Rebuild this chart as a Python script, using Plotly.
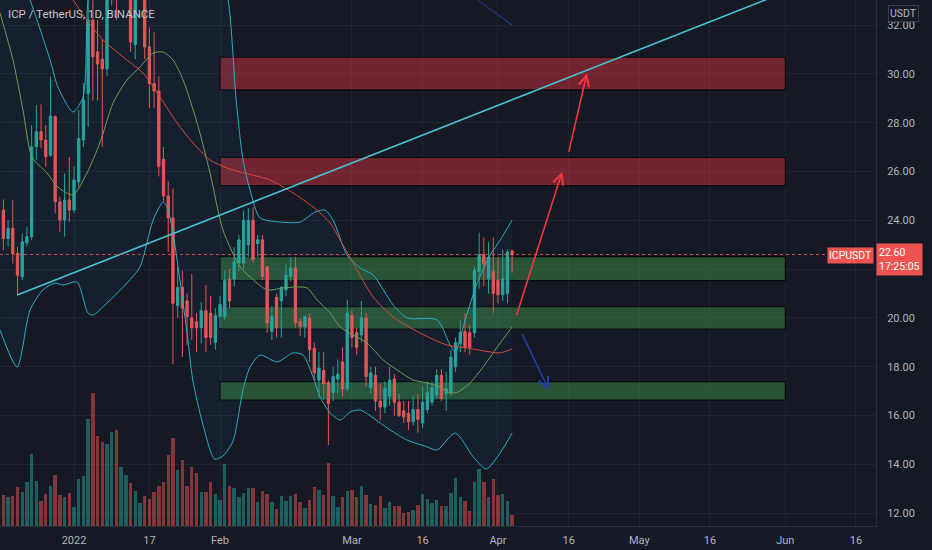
import plotly.graph_objects as go
import pandas as pd

# ---------------- data ----------------
DATES = pd.date_range("2021-12-17", periods=109, freq="D")

OPEN = [24.42, 23.26, 23.67, 22.64, 21.69, 23.08, 23.33, 27.01, 27.63, 27.29,
        26.67, 28.24, 24.76, 24.01, 24.83, 24.42, 25.58, 27.29, 29.20, 32.20,
        30.90, 30.60, 30.20, 33.40, 34.50, 33.60, 36.20, 36.80, 31.20, 33.60,
        34.30, 31.10, 29.60, 29.30, 26.50, 25.00, 24.10,
        20.50, 21.25, 20.70, 20.00, 19.85, 19.60, 20.30, 20.20, 19.00, 20.05,
        20.05, 21.60, 21.60, 22.25, 22.25, 23.00, 24.00, 23.05, 23.20, 22.10,
        19.45, 20.85, 20.70, 21.15, 21.70, 22.05, 19.85, 19.65, 20.00, 18.75,
        17.45, 17.85, 17.35, 16.95, 17.50, 18.20, 17.10,
        20.10, 19.40, 19.30, 20.00, 17.15, 17.65, 16.60, 16.35, 16.80, 17.50,
        16.55, 16.20, 16.10, 15.75, 16.25, 15.70, 16.25, 16.55, 16.85, 17.65,
        16.90, 16.95, 18.00, 18.95, 19.45, 19.40, 19.40, 21.90, 22.60, 21.60,
        21.90, 21.55, 20.95, 21.00, 22.75]
HIGH = [24.86, 24.01, 24.83, 22.92, 23.46, 23.74, 27.90, 28.72, 28.75, 27.90,
        29.88, 28.30, 24.96, 25.92, 26.60, 26.20, 28.52, 29.61, 33.60, 33.80,
        32.20, 31.40, 34.00, 35.20, 35.30, 37.00, 37.80, 37.20, 34.20, 35.00,
        35.00, 31.90, 31.70, 29.90, 27.00, 25.60, 25.30,
        22.10, 21.95, 21.00, 21.80, 20.20, 20.65, 21.35, 20.90, 20.40, 20.90,
        21.95, 22.00, 22.90, 23.40, 24.40, 24.50, 24.55, 23.40, 23.40, 22.10,
        20.50, 21.00, 21.30, 22.20, 22.50, 22.50, 20.00, 20.10, 20.20, 19.00,
        18.60, 18.60, 17.45, 18.00, 18.30, 18.80, 20.75,
        20.30, 19.60, 20.70, 20.20, 18.00, 18.00, 17.30, 17.40, 18.00, 17.70,
        16.90, 16.60, 16.60, 16.80, 16.90, 17.20, 17.40, 17.40, 17.90, 17.90,
        17.80, 18.70, 19.20, 19.90, 20.20, 19.70, 22.10, 23.50, 23.30, 23.10,
        23.30, 22.50, 22.80, 22.80, 22.80]
LOW = [22.78, 22.92, 22.23, 20.93, 21.55, 22.92, 23.19, 26.47, 26.95, 26.20,
       26.60, 24.28, 23.53, 23.33, 23.94, 24.30, 25.37, 27.01, 27.83, 28.90,
       28.90, 27.00, 29.90, 32.80, 32.20, 33.30, 35.10, 30.90, 30.60, 33.20,
       30.60, 28.60, 28.60, 25.80, 24.80, 22.70, 18.10,
       20.00, 18.40, 18.90, 19.10, 18.60, 18.96, 18.60, 18.90, 18.70, 19.60,
       19.90, 20.40, 21.30, 21.90, 22.00, 22.50, 22.25, 22.50, 21.55, 19.40,
       19.10, 19.20, 19.20, 20.90, 21.50, 19.60, 19.25, 19.20, 18.20, 17.45,
       16.75, 16.65, 14.80, 16.60, 16.90, 16.80, 17.00,
       18.80, 18.50, 19.00, 17.20, 16.90, 16.20, 15.80, 16.10, 16.40, 16.00,
       15.95, 15.70, 15.40, 15.60, 15.30, 15.50, 16.10, 16.40, 16.70, 16.60,
       16.20, 16.80, 17.80, 18.60, 18.60, 18.50, 19.20, 21.20, 21.30, 21.00,
       20.20, 20.60, 20.70, 20.60, 21.85]
CLOSE = [23.26, 23.67, 22.64, 21.75, 23.12, 23.33, 27.01, 27.63, 27.29, 26.60,
         28.27, 24.76, 24.01, 24.83, 24.42, 25.65, 27.35, 28.93, 32.20, 30.70,
         30.40, 30.20, 33.40, 34.50, 33.60, 36.20, 36.80, 31.30, 33.60, 34.30,
         31.10, 29.60, 29.30, 26.20, 25.00, 24.10, 20.60,
         21.25, 20.40, 20.05, 19.60, 19.60, 20.30, 19.20, 19.20, 20.10, 20.55,
         21.55, 20.70, 22.30, 23.20, 24.00, 24.00, 22.40, 23.20, 21.70, 19.80,
         20.05, 19.60, 21.25, 21.75, 22.05, 19.80, 19.65, 20.05, 18.70, 17.75,
         17.95, 17.30, 16.50, 17.60, 17.70, 17.10, 20.20,
         19.20, 18.80, 20.00, 17.60, 17.75, 16.60, 16.35, 17.10, 17.45, 16.55,
         16.00, 15.95, 15.75, 16.25, 15.85, 16.55, 16.95, 17.15, 17.65, 16.70,
         17.10, 18.40, 19.00, 19.40, 18.80, 18.80, 21.95, 22.60, 22.20, 22.50,
         21.00, 20.95, 21.60, 22.70, 22.60]
VOLUME_K = [920, 850, 880, 1150, 1020, 1300, 2150, 1350, 750, 950,
            1200, 1500, 920, 870, 980, 550, 1400, 1480, 3170, 3950,
            2680, 2480, 2430, 2780, 2850, 1750, 1500, 1270, 1030, 680,
            880, 800, 1000, 1200, 1300, 2100, 2600, 1650, 1970, 1180,
            1750, 1560, 1010, 1010, 1300, 950, 770, 1840, 1180, 1130,
            850, 970, 1130, 1120, 700, 1030, 950, 720, 500, 900,
            730, 880, 940, 700, 520, 780, 1160, 1080, 920, 1880,
            880, 570, 850, 1030, 1060, 850, 1200, 930, 650, 620,
            880, 530, 700, 600, 580, 380, 430, 470, 630, 950,
            800, 680, 780, 600, 600, 970, 1430, 850, 750, 450,
            1300, 1680, 1300, 870, 1400, 930, 950, 750, 320]

# Bollinger bands / moving averages
BB_UP_DATES = ["2021-12-16 07:00", "2021-12-22 16:00", "2021-12-26 22:00", "2021-12-28 14:00",
               "2021-12-31 19:00", "2022-01-02 22:00", "2022-01-03 23:00", "2022-01-08 00:00",
               "2022-01-15 00:00", "2022-01-23 00:00", "2022-01-30 00:00", "2022-02-02 17:00",
               "2022-02-04 10:00", "2022-02-05 21:00", "2022-02-07 09:00", "2022-02-09 12:00",
               "2022-02-13 18:00", "2022-02-18 00:00", "2022-02-21 04:00", "2022-02-23 07:00",
               "2022-02-25 00:00", "2022-02-27 23:00", "2022-03-02 18:00", "2022-03-05 12:00",
               "2022-03-09 18:00", "2022-03-12 17:00", "2022-03-19 02:00", "2022-03-21 20:00",
               "2022-03-22 22:00", "2022-03-25 01:00", "2022-03-27 14:00", "2022-03-30 08:00",
               "2022-04-01 11:00", "2022-04-04 00:00"]
BB_UP = [36.0, 33.02, 30.57, 29.46, 28.44, 29.05, 33.02, 38.0, 39.5, 38.5, 35.8, 33.02,
         28.93, 26.47, 25.24, 24.10, 23.93, 23.93, 24.34, 24.42, 24.01, 22.58, 22.05, 21.76,
         20.53, 20.00, 19.92, 18.89, 18.61, 19.92, 21.43, 22.58, 23.19, 24.01]

BB_LOW_DATES = ["2021-12-16 07:00", "2021-12-19 22:00", "2021-12-22 16:00", "2021-12-25 10:00",
                "2021-12-27 23:00", "2021-12-29 16:00", "2022-01-01 15:00", "2022-01-03 23:00",
                "2022-01-05 01:00", "2022-01-08 00:00", "2022-01-12 06:00", "2022-01-15 00:00",
                "2022-01-17 19:00", "2022-01-19 22:00", "2022-01-20 18:00", "2022-01-22 00:00",
                "2022-01-25 00:00", "2022-01-26 05:00", "2022-01-28 08:00", "2022-01-30 20:00",
                "2022-02-01 15:00", "2022-02-03 18:00", "2022-02-05 21:00", "2022-02-07 09:00",
                "2022-02-09 12:00", "2022-02-13 03:00", "2022-02-16 12:00", "2022-02-18 15:00",
                "2022-02-20 18:00", "2022-02-22 06:00", "2022-02-24 09:00", "2022-02-26 12:00",
                "2022-02-28 15:00", "2022-03-02 18:00", "2022-03-07 00:00", "2022-03-09 03:00",
                "2022-03-12 17:00", "2022-03-16 23:00", "2022-03-19 02:00", "2022-03-22 22:00",
                "2022-03-26 18:00", "2022-03-29 12:00", "2022-04-01 11:00", "2022-04-04 00:00"]
BB_LOW = [19.51, 17.99, 20.33, 21.15, 21.43, 21.35, 21.47, 20.20, 20.12, 20.61, 21.43, 22.09,
          24.01, 24.75, 24.55, 23.48, 19.38, 17.46, 15.66, 14.22, 14.35, 14.96, 17.05, 17.99,
          18.48, 18.20, 18.57, 18.48, 17.58, 16.76, 16.11, 15.82, 16.15, 16.23, 15.70, 15.41,
          15.00, 14.72, 14.59, 15.29, 14.31, 13.81, 14.47, 15.29]

BASIS_DATES = ["2021-12-16 07:00", "2021-12-19 01:00", "2021-12-21 04:00", "2021-12-23 02:00",
               "2021-12-26 06:00", "2021-12-28 14:00", "2021-12-31 19:00", "2022-01-03 18:00",
               "2022-01-06 12:00", "2022-01-09 07:00", "2022-01-12 06:00", "2022-01-15 00:00",
               "2022-01-17 19:00", "2022-01-19 22:00", "2022-01-22 00:00", "2022-01-24 04:00",
               "2022-01-27 03:00", "2022-01-29 21:00", "2022-02-01 15:00", "2022-02-05 06:00",
               "2022-02-07 09:00", "2022-02-11 00:00", "2022-02-14 09:00", "2022-02-17 09:00",
               "2022-02-19 12:00", "2022-02-21 14:00", "2022-02-24 09:00", "2022-02-26 12:00",
               "2022-03-01 06:00", "2022-03-04 05:00", "2022-03-07 15:00", "2022-03-10 14:00",
               "2022-03-14 00:00", "2022-03-16 23:00", "2022-03-19 17:00", "2022-03-21 20:00",
               "2022-03-23 13:00", "2022-03-26 02:00", "2022-03-28 20:00", "2022-03-31 20:00",
               "2022-04-04 00:00"]
BASIS = [32.49, 30.57, 28.52, 26.59, 25.94, 25.36, 25.04, 25.94, 27.17, 28.81, 29.75, 30.28,
         30.85, 30.89, 30.57, 29.75, 27.99, 25.94, 23.60, 22.09, 21.68, 21.15, 21.23, 21.27,
         21.23, 20.74, 20.20, 19.63, 19.30, 18.98, 18.28, 17.87, 17.46, 17.34, 17.17, 16.93,
         16.97, 17.34, 17.99, 18.81, 19.63]

MA_RED_DATES = ["2021-12-16 07:00", "2021-12-31 19:00", "2022-01-03 18:00", "2022-01-07 04:00",
                "2022-01-11 10:00", "2022-01-15 16:00", "2022-01-19 06:00", "2022-01-22 21:00",
                "2022-01-26 06:00", "2022-01-29 21:00", "2022-02-02 12:00", "2022-02-05 06:00",
                "2022-02-11 15:00", "2022-02-16 12:00", "2022-02-20 18:00", "2022-02-24 09:00",
                "2022-02-26 12:00", "2022-03-01 06:00", "2022-03-05 12:00", "2022-03-09 18:00",
                "2022-03-15 12:00", "2022-03-21 05:00", "2022-03-25 11:00", "2022-03-30 08:00",
                "2022-04-01 11:00", "2022-04-04 00:00"]
MA_RED = [37.0, 33.02, 32.20, 31.39, 30.69, 30.03, 29.05, 27.99, 27.17, 26.47, 26.14, 25.98,
          25.65, 25.12, 24.55, 23.89, 23.19, 22.25, 20.86, 20.04, 19.38, 18.89, 18.77, 18.61,
          18.57, 18.73]

MA_BLUE_DATES = ["2022-03-20 00:00", "2022-03-27 19:00", "2022-04-04 00:00"]
MA_BLUE = [34.1, 33.02, 32.00]

# drawings
TREND_DATES = ["2021-12-19 23:00", "2022-06-04 04:00"]
TREND_PRICES = [20.94, 33.59]

ZONE_START, ZONE_END = "2022-02-01", "2022-06-01"
ZONE_TOP = [30.68, 26.58, 22.51, 20.46, 17.39]
ZONE_BOTTOM = [29.34, 25.42, 21.53, 19.54, 16.64]
ZONE_KIND = ["sell", "sell", "buy", "buy", "buy"]

ARROW_TAIL_DATES = ["2022-04-04 20:00", "2022-04-15 23:00", "2022-04-06 00:00"]
ARROW_TAIL_PRICES = [20.05, 26.74, 19.40]
ARROW_HEAD_DATES = ["2022-04-14 15:00", "2022-04-19 21:00", "2022-04-11 19:00"]
ARROW_HEAD_PRICES = [25.99, 30.02, 17.05]
ARROW_COLORS = ["#f23645", "#f23645", "#2639a8"]

LAST_PRICE = 22.60
PRICE_TICKS = [12, 14, 16, 18, 20, 22, 24, 26, 28, 30, 32]
DATE_TICKS = ["2022-01-01", "2022-01-17", "2022-02-01", "2022-03-01", "2022-03-16",
              "2022-04-01", "2022-04-16", "2022-05-01", "2022-05-16", "2022-06-01", "2022-06-16"]
DATE_TICK_TEXT = ["2022", "17", "Feb", "Mar", "16", "Apr", "16", "May", "16", "Jun", "16"]

# ---------------- styling ----------------
BG = "#151924"
GRID = "#20242f"
TXT = "#b2b5be"
UP = "#26a69a"
DOWN = "#ef5350"
FONT = "Roboto"

fig = go.Figure()

vol_colors = ["rgba(38,166,154,0.5)" if c >= o else "rgba(239,83,80,0.5)" for o, c in zip(OPEN, CLOSE)]
fig.add_trace(go.Bar(x=DATES, y=VOLUME_K, marker=dict(color=vol_colors, line=dict(width=0)),
                     width=0.72 * 86400000, yaxis="y2", hoverinfo="skip", showlegend=False))

# Bollinger band area
fig.add_trace(go.Scatter(x=BB_UP_DATES, y=BB_UP, mode="lines",
                         line=dict(color="#27b0c4", width=1, shape="spline", smoothing=0.7),
                         hoverinfo="skip", showlegend=False))
fig.add_trace(go.Scatter(x=BB_LOW_DATES, y=BB_LOW, mode="lines", fill="tonexty",
                         fillcolor="rgba(33,150,243,0.05)",
                         line=dict(color="#27b0c4", width=1, shape="spline", smoothing=0.7),
                         hoverinfo="skip", showlegend=False))

fig.add_trace(go.Candlestick(x=DATES, open=OPEN, high=HIGH, low=LOW, close=CLOSE,
                             increasing=dict(line=dict(color=UP, width=1), fillcolor=UP),
                             decreasing=dict(line=dict(color=DOWN, width=1), fillcolor=DOWN),
                             whiskerwidth=0, hoverinfo="skip", showlegend=False))

fig.add_trace(go.Scatter(x=BASIS_DATES, y=BASIS, mode="lines",
                         line=dict(color="#6f9f55", width=1, shape="spline", smoothing=0.7),
                         hoverinfo="skip", showlegend=False))
fig.add_trace(go.Scatter(x=MA_RED_DATES, y=MA_RED, mode="lines",
                         line=dict(color="#d9483b", width=1, shape="spline", smoothing=0.7),
                         hoverinfo="skip", showlegend=False))
fig.add_trace(go.Scatter(x=MA_BLUE_DATES, y=MA_BLUE, mode="lines",
                         line=dict(color="#2740a0", width=1),
                         hoverinfo="skip", showlegend=False))
fig.add_trace(go.Scatter(x=TREND_DATES, y=TREND_PRICES, mode="lines",
                         line=dict(color="#45c4d2", width=1.6),
                         hoverinfo="skip", showlegend=False))

shapes = []
for top, bot, kind in zip(ZONE_TOP, ZONE_BOTTOM, ZONE_KIND):
    fill = "rgba(242,54,69,0.42)" if kind == "sell" else "rgba(76,175,80,0.38)"
    shapes.append(dict(type="rect", xref="x", yref="y", x0=ZONE_START, x1=ZONE_END,
                       y0=bot, y1=top, fillcolor=fill,
                       line=dict(color="rgba(5,6,8,0.9)", width=1.2), layer="between"))
shapes.append(dict(type="line", xref="paper", yref="y", x0=0, x1=1, y0=LAST_PRICE, y1=LAST_PRICE,
                   line=dict(color="rgba(239,83,80,0.8)", width=1, dash="dot")))

annotations = []
for td, tp, hd, hp, col in zip(ARROW_TAIL_DATES, ARROW_TAIL_PRICES, ARROW_HEAD_DATES,
                               ARROW_HEAD_PRICES, ARROW_COLORS):
    annotations.append(dict(x=hd, y=hp, ax=td, ay=tp, xref="x", yref="y", axref="x", ayref="y",
                            showarrow=True, arrowhead=5, arrowsize=1.3, arrowwidth=1.6,
                            arrowcolor=col, text=""))

PLOT_W = 875.7
PLOT_H = 526.0
annotations.append(dict(text="ICP / TetherUS, 1D, BINANCE", xref="paper", yref="paper",
                        x=6 / PLOT_W, y=1 - 14 / PLOT_H, xanchor="left", yanchor="middle",
                        showarrow=False, font=dict(family=FONT, size=11.5, color="#c3c6ce")))
annotations.append(dict(text="USDT", xref="paper", yref="paper", x=903 / PLOT_W, y=1 - 13.5 / PLOT_H,
                        xanchor="center", yanchor="middle", showarrow=False,
                        font=dict(family=FONT, size=10.5, color=TXT),
                        bordercolor="#3a3e4a", borderwidth=1, borderpad=1, bgcolor=BG))
annotations.append(dict(text="ICPUSDT", xref="paper", yref="paper", x=850 / PLOT_W, y=1 - 255.3 / PLOT_H,
                        xanchor="center", yanchor="middle", showarrow=False,
                        font=dict(family=FONT, size=10.5, color="white"),
                        bgcolor=DOWN, borderpad=1))
annotations.append(dict(text="22.60<br>17:25:05", xref="paper", yref="paper", x=876 / PLOT_W,
                        y=1 - 259.2 / PLOT_H, xanchor="left", yanchor="middle", showarrow=False,
                        align="left", font=dict(family=FONT, size=10.5, color="white"),
                        bgcolor=DOWN, borderpad=2))

# the 22.00 scale label sits under the live-price tag, as in the reference
price_tick_text = ["" if v == 22 else f"{v:.2f}" for v in PRICE_TICKS]

fig.update_layout(
    width=932, height=550,
    margin=dict(l=0, r=932 - PLOT_W, t=0, b=550 - PLOT_H),
    paper_bgcolor=BG, plot_bgcolor=BG,
    font=dict(family=FONT, color=TXT, size=11),
    showlegend=False, hovermode=False,
    shapes=shapes, annotations=annotations, bargap=0,
    xaxis=dict(type="date", range=["2021-12-16 06:51", "2022-06-20 06:00"],
               tickvals=DATE_TICKS, ticktext=DATE_TICK_TEXT,
               showgrid=True, gridcolor=GRID, gridwidth=1, zeroline=False,
               showline=True, linecolor="#2a2e39", linewidth=1,
               ticks="", ticklabelstandoff=4,
               tickfont=dict(family=FONT, size=11, color=TXT),
               rangeslider=dict(visible=False), fixedrange=True),
    yaxis=dict(side="right", range=[11.48, 33.024], tickvals=PRICE_TICKS,
               ticktext=price_tick_text,
               showgrid=True, gridcolor=GRID, gridwidth=1, zeroline=False,
               showline=True, linecolor="#2a2e39", linewidth=1,
               ticks="", ticklabelstandoff=8,
               tickfont=dict(family=FONT, size=11, color=TXT), fixedrange=True),
    yaxis2=dict(overlaying="y", range=[0, 15620], visible=False, fixedrange=True),
)

fig.write_html("out.html", config={"displayModeBar": False},
               post_script="document.body.style.margin='0';document.body.style.background='#151924';")
